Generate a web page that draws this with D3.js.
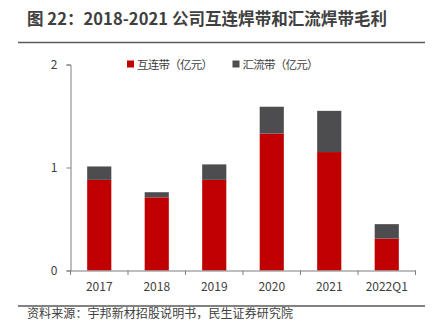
<!DOCTYPE html>
<html><head><meta charset="utf-8">
<script src="https://cdn.jsdelivr.net/npm/d3@7"></script>
<style>body{margin:0;background:#fff}svg{display:block}text{font-family:"Noto Sans CJK SC","Open Sans",sans-serif}</style>
</head><body>
<script>
const categories = ["2017","2018","2019","2020","2021","2022Q1"];
const interconnect = [0.88,0.71,0.88,1.33,1.15,0.31];
const busbar = [0.13,0.05,0.15,0.26,0.40,0.14];
const seriesNames = ["互连带（亿元）","汇流带（亿元）"];
const yTicks = [0,1,2];
const colors = ["#C00000","#4D4D4F"];

const W=434,H=328;
const svg=d3.select("body").append("svg").attr("width",W).attr("height",H);
const x=d3.scaleBand().domain(categories).range([70.5,415.5]).paddingInner(0.58).paddingOuter(0.29);
const y=d3.scaleLinear().domain([0,2]).range([270.5,64.5]);

// title
svg.append("text").attr("x",27).attr("y",25).attr("font-size",16.5).attr("font-weight","bold").attr("fill","#404040")
  .attr("textLength",360).attr("lengthAdjust","spacing")
  .text("图 22：2018-2021 公司互连焊带和汇流焊带毛利");
svg.append("line").attr("x1",18).attr("x2",425).attr("y1",42.5).attr("y2",42.5).attr("stroke","#595959").attr("stroke-width",1.5);

// legend
const lg=[{x:127,name:seriesNames[0],c:colors[0]},{x:232.5,name:seriesNames[1],c:colors[1]}];
lg.forEach(d=>{
  svg.append("rect").attr("x",d.x).attr("y",60.5).attr("width",7).attr("height",7).attr("fill",d.c);
  svg.append("text").attr("x",d.x+10).attr("y",68.5).attr("font-size",11.5).attr("fill","#404040")
    .attr("textLength",76).attr("lengthAdjust","spacing").text(d.name);
});

const data=categories.map((c,i)=>({c,a:interconnect[i],b:busbar[i]}));
const stack=d3.stack().keys(["a","b"])(data);
stack.forEach((s,k)=>{
  svg.append("g").selectAll("rect").data(s).join("rect")
    .attr("x",d=>x(d.data.c)).attr("width",x.bandwidth())
    .attr("y",d=>y(d[1])).attr("height",d=>y(d[0])-y(d[1]))
    .attr("fill",colors[k]);
});

// axes
const ya=svg.append("g").attr("transform","translate(70.5,0)")
  .call(d3.axisLeft(y).tickValues(yTicks).tickFormat(d3.format("d")).tickSize(4).tickPadding(9));
const xa=svg.append("g").attr("transform","translate(0,270.5)")
  .call(d3.axisBottom(x).tickSize(0).tickPadding(12));
[ya,xa].forEach(g=>{
  g.select(".domain").attr("stroke","#7f7f7f");
  g.selectAll(".tick line").attr("stroke","#7f7f7f");
  g.selectAll("text").attr("font-size",12).attr("fill","#404040").attr("font-family","'Open Sans',sans-serif");
});
// x category boundary ticks
const edges=categories.map((c,i)=>i===0?70.5:x(c)-x.step()*x.paddingInner()/2).concat([415.5]);
svg.append("g").selectAll("line").data(edges).join("line")
  .attr("x1",d=>d).attr("x2",d=>d).attr("y1",270.5).attr("y2",275).attr("stroke","#7f7f7f");

// bottom
svg.append("line").attr("x1",18).attr("x2",425).attr("y1",306).attr("y2",306).attr("stroke","#595959").attr("stroke-width",1.5);
svg.append("text").attr("x",27).attr("y",317.5).attr("font-size",12).attr("fill","#404040")
  .attr("textLength",266).attr("lengthAdjust","spacing").text("资料来源：宇邦新材招股说明书，民生证券研究院");
</script>
</body></html>
